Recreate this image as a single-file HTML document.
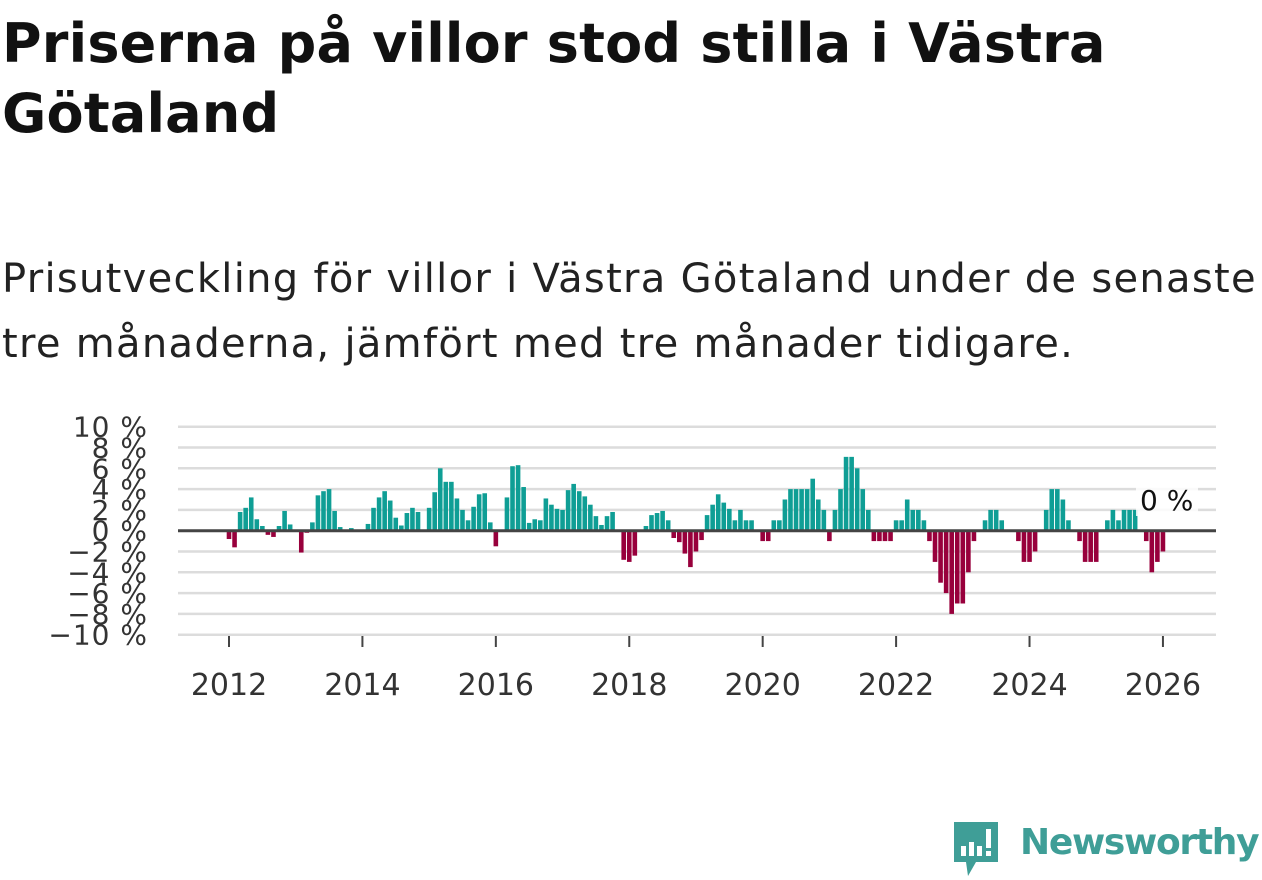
<!DOCTYPE html>
<html><head><meta charset="utf-8">
<style>
html,body{margin:0;padding:0;background:#fff;width:1262px;height:879px;overflow:hidden;font-family:"Liberation Sans","DejaVu Sans",sans-serif;}
h1{position:absolute;left:2px;top:9px;margin:0;font-size:54px;line-height:70px;font-weight:bold;color:#111;font-family:"DejaVu Sans","Liberation Sans",sans-serif;letter-spacing:0.2px;}
.sub{position:absolute;left:2px;top:247px;margin:0;font-size:40px;line-height:65px;color:#222;font-family:"DejaVu Sans","Liberation Sans",sans-serif;letter-spacing:1.3px;white-space:nowrap;}
svg{position:absolute;left:0;top:0;}
</style></head><body>
<h1>Priserna på villor stod stilla i Västra<br>Götaland</h1>
<p class="sub">Prisutveckling för villor i Västra Götaland under de senaste<br>tre månaderna, jämfört med tre månader tidigare.</p>
<svg id="chart" width="1262" height="879"></svg>
<div style="position:absolute;left:952px;top:820px;width:310px;height:58px;">
<svg width="50" height="60" style="left:0;top:0">
<path d="M2 2 H46 V42 H24 L16 56 L14 42 H2 Z" fill="#3f9e97"/>
<rect x="9" y="26" width="5" height="10" fill="#fff"/><rect x="17" y="22" width="5" height="14" fill="#fff"/><rect x="25" y="26" width="5" height="10" fill="#fff"/><rect x="34" y="9" width="5" height="19" fill="#fff"/><rect x="34" y="31" width="5" height="5" fill="#fff"/>
</svg>
<span style="position:absolute;left:68px;top:2px;font-size:36px;font-weight:bold;color:#3f9e97;font-family:'DejaVu Sans','Liberation Sans',sans-serif;letter-spacing:-1.3px;white-space:nowrap;">Newsworthy</span>
</div>
<script>
const values = [
-0.8,-1.6,1.8,2.2,3.2,1.1,0.45,-0.4,-0.6,0.45,1.9,0.6,
0,-2.1,-0.2,0.8,3.4,3.8,4.0,1.9,0.35,0,0.25,0,
0,0.65,2.2,3.2,3.8,2.9,1.25,0.5,1.7,2.2,1.8,0,
2.2,3.7,6.0,4.7,4.7,3.1,2.0,1.0,2.3,3.5,3.6,0.8,
-1.5,0,3.2,6.2,6.3,4.2,0.75,1.1,1.0,3.1,2.5,2.1,
2.0,3.9,4.5,3.8,3.3,2.5,1.4,0.55,1.4,1.8,0,-2.8,
-3.0,-2.4,0,0.45,1.5,1.7,1.9,1.0,-0.7,-1.1,-2.2,-3.5,
-2.0,-0.9,1.5,2.5,3.5,2.7,2.1,1.0,2.0,1.0,1.0,0,
-1,-1,1,1,3,4,4,4,4,5,3,2,
-1,2,4,7.1,7.1,6,4,2,-1,-1,-1,-1,
1,1,3,2,2,1,-1,-3,-5,-6,-8,-7,
-7,-4,-1,0,1,2,2,1,0,0,-1,-3,
-3,-2,0,2,4,4,3,1,0,-1,-3,-3,
-3,0,1,2,1,2,2,2,0,-1,-4,-3,
-2];
const startYear = 2012;
const yTicks = [10,8,6,4,2,0,-2,-4,-6,-8,-10];
const xTicks = [2012,2014,2016,2018,2020,2022,2024,2026];
const lastLabel = "0 %";

const NS="http://www.w3.org/2000/svg";
const svg=document.getElementById('chart');
const x0=229, pxPerYear=66.71, y0=530.7, pxPerPct=10.4, left=178, right=1216;
const xs=t=>x0+(t-startYear)*pxPerYear;
const ys=v=>y0-v*pxPerPct;
function mk(tag,attrs){const e=document.createElementNS(NS,tag);for(const k in attrs)e.setAttribute(k,attrs[k]);svg.appendChild(e);return e;}
const fmt=v=>(v<0?'\u2212'+(-v):''+v)+' %';
yTicks.forEach(v=>{
  if(v!==0){const g=mk('line',{x1:left,x2:right,y1:ys(v),y2:ys(v),stroke:'#dcdcdc','stroke-width':2.5});
  
  }
  const t=mk('text',{x:148,y:ys(v)+10,'text-anchor':'end','font-size':28,fill:'#333','font-family':'DejaVu Sans, Liberation Sans, sans-serif','letter-spacing':'1'});
  t.textContent=fmt(v);
  
  
});
values.forEach((v,i)=>{
  const cx=xs(startYear+i/12);
  const r=mk('rect',{x:cx-2.3,width:4.6,y:v>=0?ys(v):y0,height:Math.abs(v)*pxPerPct,fill:v>=0?'#0f9e95':'#98003c'});
  
  
});
const z=mk('line',{x1:left,x2:right,y1:y0,y2:y0,stroke:'#444','stroke-width':3});


xTicks.forEach(yr=>{
  const tk=mk('line',{x1:xs(yr),x2:xs(yr),y1:636,y2:647,stroke:'#444','stroke-width':2});
  
  
  const t=mk('text',{x:xs(yr),y:695,'text-anchor':'middle','font-size':30,fill:'#333','font-family':'DejaVu Sans, Liberation Sans, sans-serif'});
  t.textContent=yr;
  
  
});
const bg=mk('rect',{x:1136,y:484,width:62,height:32,fill:'#fff',opacity:0.85});


const lt=mk('text',{x:1140,y:510,'font-size':28,fill:'#111','font-family':'DejaVu Sans, Liberation Sans, sans-serif'});
lt.textContent=lastLabel;


</script>
</body></html>
